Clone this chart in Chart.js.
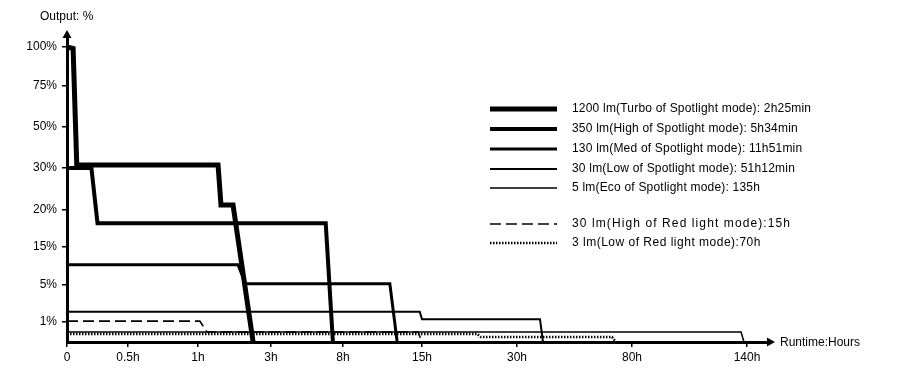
<!DOCTYPE html>
<html>
<head>
<meta charset="utf-8">
<script src="https://cdn.jsdelivr.net/npm/chart.js@4.4.1/dist/chart.umd.min.js"></script>
<style>
  html, body { margin: 0; padding: 0; background: #fff; }
  #wrap { width: 900px; height: 372px; position: relative; }
</style>
</head>
<body>
<div id="wrap"><canvas id="runtimeChart"></canvas></div>
<script>
const xTicks = [0, 0.5, 1, 3, 8, 15, 30, 80, 140];
const xTickLabels = ['0', '0.5h', '1h', '3h', '8h', '15h', '30h', '80h', '140h'];
const yTicks = [1, 5, 15, 20, 30, 50, 75, 100];
const yTickLabels = ['1%', '5%', '15%', '20%', '30%', '50%', '75%', '100%'];

const modeNames = [
  '1200 lm(Turbo of Spotlight mode): 2h25min',
  '350 lm(High of Spotlight mode): 5h34min',
  '130 lm(Med of Spotlight mode): 11h51min',
  '30 lm(Low of Spotlight mode): 51h12min',
  '5 lm(Eco of Spotlight mode): 135h',
  '30 lm(High of Red light mode):15h',
  '3 lm(Low of Red light mode):70h'
];

// runtime in hours / output in %
const turboHours = [0, 0.05, 0.08, 1.55, 1.63, 1.96, 2.51];
const turboOutput = [100, 99, 31.5, 31.5, 21.2, 21.2, 0];
const highHours = [0, 0.2, 0.25, 6.8, 7.3];
const highOutput = [30, 30, 18.2, 18.2, 0];
const medHours = [0, 2.1, 2.3, 12.15, 12.8];
const medOutput = [10.3, 10.3, 5.3, 5.3, 0];
const lowHours = [0, 14.8, 15, 40, 41.3];
const lowOutput = [2.1, 2.1, 1.3, 1.3, 0];
const ecoHours = [0, 136.9, 138.4];
const ecoOutput = [0.5, 0.5, 0];
const redHighHours = [0, 1.05, 1.25, 14.65, 15];
const redHighOutput = [1.1, 1.1, 0.5, 0.5, 0];
const redLowHours = [0, 23.7, 24.3, 71.3, 73];
const redLowOutput = [0.4, 0.4, 0.25, 0.25, 0];

// the axes are not linear, every tick gets its own share of the axis
const xStops = [...xTicks, 152];
const xFracs = [0, 0.0868, 0.1863, 0.2902, 0.3926, 0.5050, 0.6401, 0.8037, 0.9673, 1];
const yStops = [0, ...yTicks, 108.3];
const yFracs = [0, 0.0649, 0.1851, 0.3084, 0.4286, 0.5649, 0.6981, 0.8312, 0.9578, 1];

function toFrac(stops, fracs, v) {
  for (let i = 1; i < stops.length; i++) {
    if (v <= stops[i]) {
      const t = (v - stops[i - 1]) / (stops[i] - stops[i - 1]);
      return fracs[i - 1] + t * (fracs[i] - fracs[i - 1]);
    }
  }
  return fracs[fracs.length - 1];
}

function fromFrac(stops, fracs, f) {
  for (let i = 1; i < fracs.length; i++) {
    if (f <= fracs[i]) {
      const t = (f - fracs[i - 1]) / (fracs[i] - fracs[i - 1]);
      return stops[i - 1] + t * (stops[i] - stops[i - 1]);
    }
  }
  return stops[stops.length - 1];
}

class WarpScale extends Chart.LinearScale {
  static id = 'warp';
  stops() {
    return this.axis === 'x' ? [xStops, xFracs] : [yStops, yFracs];
  }
  buildTicks() {
    return (this.axis === 'x' ? xTicks : yTicks).map(v => ({ value: v }));
  }
  getPixelForValue(v) {
    const [s, f] = this.stops();
    return this.getPixelForDecimal(toFrac(s, f, v));
  }
  getValueForPixel(p) {
    const [s, f] = this.stops();
    return fromFrac(s, f, this.getDecimalForPixel(p));
  }
}
Chart.register(WarpScale);

function pts(hours, output) {
  return hours.map((h, i) => ({ x: h, y: output[i] }));
}

const ink = '#000';
const font = 'Liberation Sans, Arial, sans-serif';

const series = [
  [turboHours, turboOutput, 5, []],
  [highHours, highOutput, 4, []],
  [medHours, medOutput, 3, []],
  [lowHours, lowOutput, 2, []],
  [ecoHours, ecoOutput, 1.5, []],
  [redHighHours, redHighOutput, 1.6, [11, 5]],
  [redLowHours, redLowOutput, 2.5, [1.5, 1.5]]
];

const datasets = series.map((s, i) => ({
  label: modeNames[i],
  data: pts(s[0], s[1]),
  borderColor: ink,
  borderWidth: s[2],
  borderDash: s[3],
  pointRadius: 0,
  tension: 0,
  fill: false
}));

const legendRows = [109, 129, 149, 169, 188, 224, 243];
const legendSpacing = [0.2, 0.2, 0.2, 0.2, 0.2, 1.1, 0.5];

const decorations = {
  id: 'decorations',
  afterDraw(chart) {
    const c = chart.ctx;
    const a = chart.chartArea;
    c.save();
    c.fillStyle = ink;
    // arrow heads
    c.beginPath();
    c.moveTo(a.left, a.top - 4);
    c.lineTo(a.left - 4.5, a.top + 4);
    c.lineTo(a.left + 4.5, a.top + 4);
    c.closePath();
    c.fill();
    c.beginPath();
    c.moveTo(a.right + 5, a.bottom);
    c.lineTo(a.right - 3, a.bottom - 4.5);
    c.lineTo(a.right - 3, a.bottom + 4.5);
    c.closePath();
    c.fill();

    c.font = '12px ' + font;
    c.textBaseline = 'middle';
    c.textAlign = 'left';
    c.fillText('Output: %', 40, 17);
    c.fillText('Runtime:Hours', 780, 343);

    // legend
    chart.data.datasets.forEach((ds, i) => {
      const y = legendRows[i];
      c.strokeStyle = ink;
      c.lineWidth = ds.borderWidth;
      c.setLineDash(ds.borderDash);
      c.beginPath();
      c.moveTo(490, y);
      c.lineTo(557, y);
      c.stroke();
      c.setLineDash([]);
      c.letterSpacing = legendSpacing[i] + 'px';
      c.fillText(ds.label, 572, y);
    });
    c.restore();
  }
};

const ctx = document.getElementById('runtimeChart').getContext('2d');

const runtimeChart = new Chart(ctx, {
  type: 'line',
  data: { datasets: datasets },
  options: {
    responsive: true,
    maintainAspectRatio: false,
    animation: false,
    events: [],
    layout: { padding: { top: 34, right: 130, left: 0, bottom: 0 } },
    plugins: { legend: { display: false }, tooltip: { enabled: false } },
    scales: {
      x: {
        type: 'warp',
        min: 0,
        max: 152,
        border: { display: true, color: ink, width: 3 },
        grid: { display: true, drawOnChartArea: false, drawTicks: true, tickLength: 5, color: ink, lineWidth: 1.5 },
        ticks: {
          autoSkip: false,
          maxRotation: 0,
          padding: 3,
          color: ink,
          font: { family: font, size: 12 },
          callback: (v, i) => xTickLabels[i]
        },
        afterFit: s => { s.height = 30; }
      },
      y: {
        type: 'warp',
        min: 0,
        max: 108.3,
        border: { display: true, color: ink, width: 3 },
        grid: { display: true, drawOnChartArea: false, drawTicks: true, tickLength: 5, color: ink, lineWidth: 1.5 },
        ticks: {
          autoSkip: false,
          padding: 5,
          color: ink,
          font: { family: font, size: 12 },
          callback: (v, i) => yTickLabels[i]
        },
        afterFit: s => { s.width = 67; }
      }
    }
  },
  plugins: [decorations]
});
</script>
</body>
</html>
